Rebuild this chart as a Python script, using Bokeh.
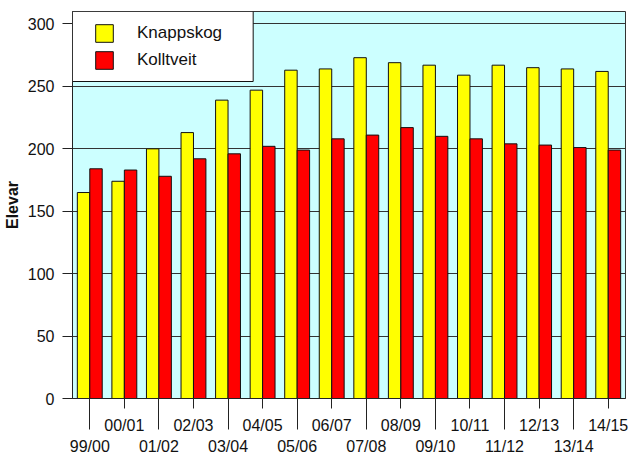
import numpy as np
from bokeh.plotting import figure
from bokeh.models import (Range1d, LinearAxis, FixedTicker, Legend, LegendItem,
                          BoxAnnotation)
from bokeh.embed import file_html
from bokeh.resources import INLINE

# ---- data ----
seasons = ["99/00", "00/01", "01/02", "02/03", "03/04", "04/05", "05/06", "06/07",
           "07/08", "08/09", "09/10", "10/11", "11/12", "12/13", "13/14", "14/15"]
knappskog = [165, 174, 200, 213, 239, 247, 263, 264, 273, 269, 267, 259, 267, 265, 264, 262]
kolltveit = [184, 183, 178, 192, 196, 202, 199, 208, 211, 217, 210, 208, 204, 203, 201, 199]
series_names = ["Knappskog", "Kolltveit"]
series_colors = ["#FFFF00", "#FF0000"]
y_ticks = [0, 50, 100, 150, 200, 250, 300]
y_label = "Elevar"

FONT = "Liberation Sans"
n = len(seasons)
idx = np.arange(n)
y_max = 310
FRAME_H = 387
FRAME_W = 554

p = figure(width=632, height=457,
           x_range=Range1d(-0.5, n - 0.5), y_range=Range1d(0, y_max),
           x_axis_location=None,
           output_backend="svg", toolbar_location=None,
           min_border_left=71, min_border_right=7, min_border_top=11, min_border_bottom=59)

p.background_fill_color = "#CCFFFF"
p.border_fill_color = "white"
p.outline_line_color = "#333333"
p.outline_line_width = 1

# grid
p.xgrid.visible = False
p.ygrid.ticker = FixedTicker(ticks=y_ticks)
p.ygrid.grid_line_color = "#333333"
p.ygrid.grid_line_width = 1.2

# y axis
yax = p.yaxis[0]
yax.ticker = FixedTicker(ticks=y_ticks)
yax.major_tick_out = 10
yax.major_tick_in = 0
yax.minor_tick_line_color = None
yax.axis_line_color = "#222222"
yax.major_tick_line_color = "#222222"
yax.major_label_text_font = FONT
yax.major_label_text_font_size = "16px"
yax.major_label_text_color = "#111111"
yax.major_label_standoff = 8
yax.axis_label = y_label
yax.axis_label_text_font = FONT
yax.axis_label_text_font_size = "16px"
yax.axis_label_text_font_style = "bold"
yax.axis_label_text_color = "#111111"
yax.axis_label_standoff = 4

# bars
r1 = p.vbar(x=idx - 0.18, top=knappskog, width=0.36, fill_color=series_colors[0],
            line_color="#111111", line_width=1)
r2 = p.vbar(x=idx + 0.18, top=kolltveit, width=0.36, fill_color=series_colors[1],
            line_color="#111111", line_width=1)

# staggered x axis: odd labels on upper row, even labels on lower row
odd = [int(i) for i in idx[1::2]]
even = [int(i) for i in idx[0::2]]

axA = LinearAxis(ticker=FixedTicker(ticks=odd),
                 major_label_overrides={i: seasons[i] for i in odd})
axA.major_tick_out = 10
axA.major_tick_in = 0
axA.minor_tick_line_color = None
axA.axis_line_color = "#222222"
axA.major_tick_line_color = "#222222"
axA.major_label_text_font = FONT
axA.major_label_text_font_size = "16px"
axA.major_label_text_color = "#111111"
axA.major_label_standoff = 8
p.add_layout(axA, "below")

axB = LinearAxis(ticker=FixedTicker(ticks=even),
                 major_label_overrides={i: seasons[i] for i in even})
axB.major_tick_out = -7
axB.major_tick_in = 38
axB.minor_tick_line_color = None
axB.major_tick_line_color = "#222222"
axB.axis_line_color = None
axB.major_label_text_font = FONT
axB.major_label_text_font_size = "16px"
axB.major_label_text_color = "#111111"
axB.major_label_standoff = 1
p.add_layout(axB, "below")

# legend background box (white, black border) in the top-left corner
box = BoxAnnotation(left=-0.5, right=-0.5 + 181 / FRAME_W * n,
                    top=y_max, bottom=y_max - 70 / FRAME_H * y_max,
                    fill_color="white", fill_alpha=1,
                    line_color="#111111", line_width=1, line_alpha=1)
p.add_layout(box)

legend = Legend(items=[LegendItem(label=series_names[0], renderers=[r1]),
                       LegendItem(label=series_names[1], renderers=[r2])],
                location=(21, FRAME_H - 11 - 49), padding=0, margin=0, spacing=5,
                glyph_width=22, glyph_height=22, label_standoff=22,
                label_text_font=FONT, label_text_font_size="17px",
                label_text_color="#111111",
                background_fill_alpha=0, border_line_color=None)
p.add_layout(legend, "center")

open("out.html", "w").write(file_html(p, INLINE))
